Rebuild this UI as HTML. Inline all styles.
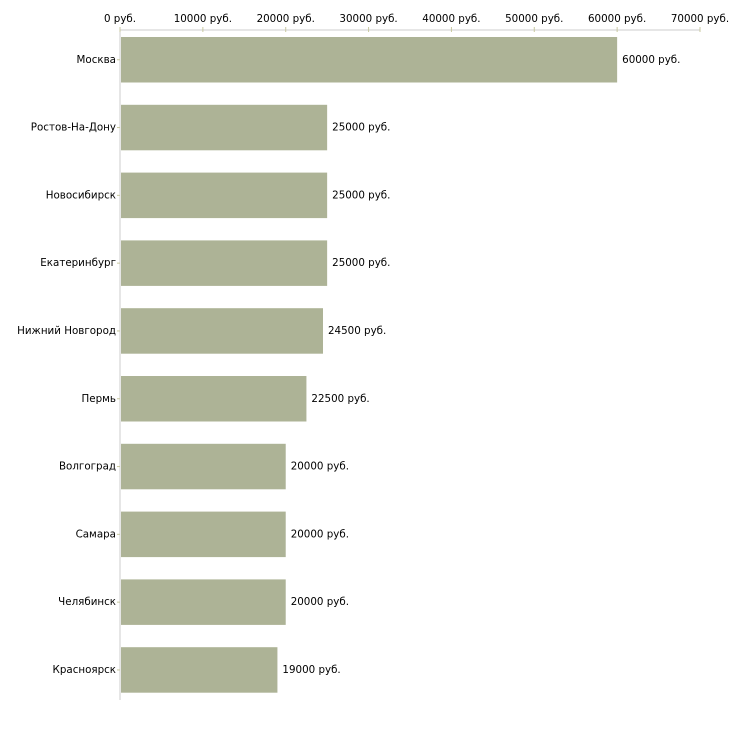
<!DOCTYPE html>
<html><head><meta charset="utf-8"><style>
body{margin:0;background:#fff;}
svg text{font-family:"DejaVu Sans","Liberation Sans",sans-serif;font-size:10.3px;fill:#000;}
</style></head><body>
<svg id="chart" width="730" height="730" xmlns="http://www.w3.org/2000/svg"></svg>
<script>
const categories=["Москва","Ростов-На-Дону","Новосибирск","Екатеринбург","Нижний Новгород","Пермь","Волгоград","Самара","Челябинск","Красноярск"];
const values=[60000,25000,25000,25000,24500,22500,20000,20000,20000,19000];
const ticks=[0,10000,20000,30000,40000,50000,60000,70000];
const svg=document.getElementById('chart');
const NS='http://www.w3.org/2000/svg';
const x0=120,x1=700,maxV=70000,top0=37,pitch=67.8,bh=45.5,axisY=30;
const xs=v=>x0+(v/maxV)*(x1-x0);
function mk(t,a){const e=document.createElementNS(NS,t);for(const k in a)e.setAttribute(k,a[k]);svg.appendChild(e);return e;}
let e=mk('line',{x1:x0,y1:axisY,x2:x1,y2:axisY,stroke:'#cccccc'});


e=mk('line',{x1:x0,y1:axisY,x2:x0,y2:700,stroke:'#cccccc'});


ticks.forEach(t=>{
  const x=xs(t);
  let l=mk('line',{x1:x,y1:axisY-3,x2:x,y2:axisY+2,stroke:'#c8c8a0'});
  
  
  let tx=mk('text',{x:x,y:22,'text-anchor':'middle'});
  tx.textContent=t+' руб.';
  
  
});
categories.forEach((c,i)=>{
  const y=top0+i*pitch, cy=y+bh/2;
  let r=mk('rect',{x:x0+1,y:y,width:xs(values[i])-x0-1,height:bh,fill:'#adb396'});
  
  
  let l=mk('line',{x1:x0-3,y1:cy,x2:x0,y2:cy,stroke:'#c8c8a0'});
  
  
  let t=mk('text',{x:x0-4,y:cy+3,'text-anchor':'end'});
  t.textContent=c;
  
  
  let v=mk('text',{x:xs(values[i])+5,y:cy+3});
  v.textContent=values[i]+' руб.';
  
  
});
</script>
</body></html>
